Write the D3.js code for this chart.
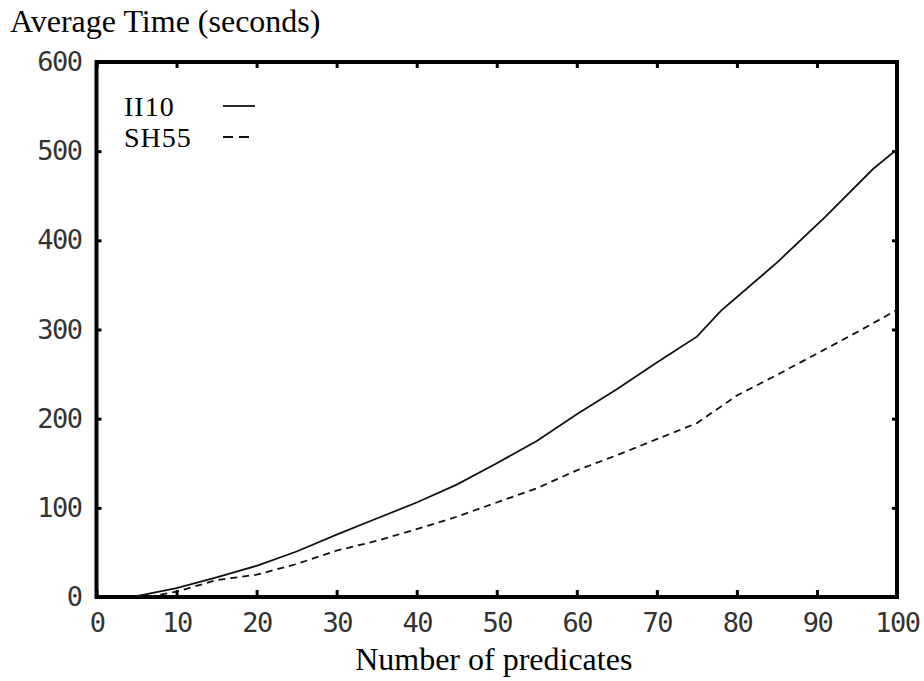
<!DOCTYPE html>
<html>
<head>
<meta charset="utf-8">
<script src="https://cdn.jsdelivr.net/npm/d3@7"></script>
<style>
  body { margin: 0; background: #fff; }
  svg { display: block; }
</style>
</head>
<body>
<svg width="924" height="681"></svg>
<script>
// values
let ii10X = [5, 10, 15, 20, 25, 30, 35, 40, 45, 50, 55, 60, 65, 70, 75, 78, 85, 91, 97, 100]
let ii10Y = [1, 10, 22, 35, 51, 70, 88, 106, 126, 150, 175, 205, 233, 263, 292, 321, 375, 426, 480, 502]
let sh55X = [5, 7, 10, 15, 20, 25, 30, 35, 40, 45, 50, 55, 60, 65, 70, 75, 80, 85, 90, 95, 100]
let sh55Y = [0, 1, 6, 19, 25, 37, 52, 63, 76, 90, 106, 122, 142, 159, 177, 195, 226, 249, 273, 297, 322]
let xTicks = [0, 10, 20, 30, 40, 50, 60, 70, 80, 90, 100]
let yTicks = [0, 100, 200, 300, 400, 500, 600]
let seriesNames = ["II10", "SH55"]

let svg = d3.select("svg")
let mLeft = 96.5, mRight = 897, mTop = 62, mBottom = 597

let x = d3.scaleLinear().domain([0, 100]).range([mLeft, mRight])
let y = d3.scaleLinear().domain([0, 600]).range([mBottom, mTop])

let tickFont = "'DejaVu Sans Mono', monospace"
let serif = "'Liberation Serif', 'Times New Roman', serif"

// axes: labels outside, small ticks inside
svg.append("g")
    .attr("transform", "translate(0," + mBottom + ")")
    .call(d3.axisBottom(x).tickValues(xTicks).tickSize(-7).tickPadding(16))
svg.append("g")
    .attr("transform", "translate(" + mLeft + ",0)")
    .call(d3.axisLeft(y).tickValues(yTicks).tickSize(-5).tickPadding(15))
// mirrored ticks on top and right
svg.append("g")
    .attr("transform", "translate(0," + mTop + ")")
    .call(d3.axisTop(x).tickValues(xTicks).tickSize(-6).tickFormat(""))
svg.append("g")
    .attr("transform", "translate(" + mRight + ",0)")
    .call(d3.axisRight(y).tickValues(yTicks).tickSize(-5).tickFormat(""))

svg.selectAll(".domain").remove()
svg.selectAll(".tick line").attr("stroke", "#000").attr("stroke-width", 3)
svg.selectAll(".tick text")
    .attr("font-family", tickFont)
    .attr("font-size", "27px")
    .attr("letter-spacing", "-1.5px")
    .attr("fill", "#333")

// frame
svg.append("rect")
    .attr("x", mLeft).attr("y", mTop)
    .attr("width", mRight - mLeft).attr("height", mBottom - mTop)
    .attr("fill", "none")
    .attr("stroke", "#000")
    .attr("stroke-width", 4)

let line = d3.line()
    .x((d) => x(d[0]))
    .y((d) => y(d[1]))

let ii10 = ii10X.map((v, i) => [v, ii10Y[i]])
let sh55 = sh55X.map((v, i) => [v, sh55Y[i]])

svg.append("path")
    .datum(ii10)
    .attr("fill", "none")
    .attr("stroke", "#111")
    .attr("stroke-width", 1.8)
    .attr("d", line)

svg.append("path")
    .datum(sh55)
    .attr("fill", "none")
    .attr("stroke", "#111")
    .attr("stroke-width", 1.8)
    .attr("stroke-dasharray", "7,5")
    .attr("d", line)

// legend
let legend = svg.append("g")
seriesNames.forEach((name, i) => {
    let ly = 116 + i * 31
    legend.append("text")
        .attr("x", 124).attr("y", ly)
        .attr("font-family", serif)
        .attr("font-size", "28px")
        .attr("letter-spacing", "1px")
        .text(name)
    legend.append("line")
        .attr("x1", 223).attr("x2", i == 0 ? 255 : 250)
        .attr("y1", ly - 10).attr("y2", ly - 10)
        .attr("stroke", "#111")
        .attr("stroke-width", 1.8)
        .attr("stroke-dasharray", i == 0 ? null : "10,6")
})

// titles
svg.append("text")
    .attr("x", 10).attr("y", 32)
    .attr("font-family", serif)
    .attr("font-size", "32px")
    .text("Average Time (seconds)")

svg.append("text")
    .attr("x", (mLeft + mRight) / 2 - 3).attr("y", 670)
    .attr("text-anchor", "middle")
    .attr("font-family", serif)
    .attr("font-size", "32px")
    .text("Number of predicates")
</script>
</body>
</html>
